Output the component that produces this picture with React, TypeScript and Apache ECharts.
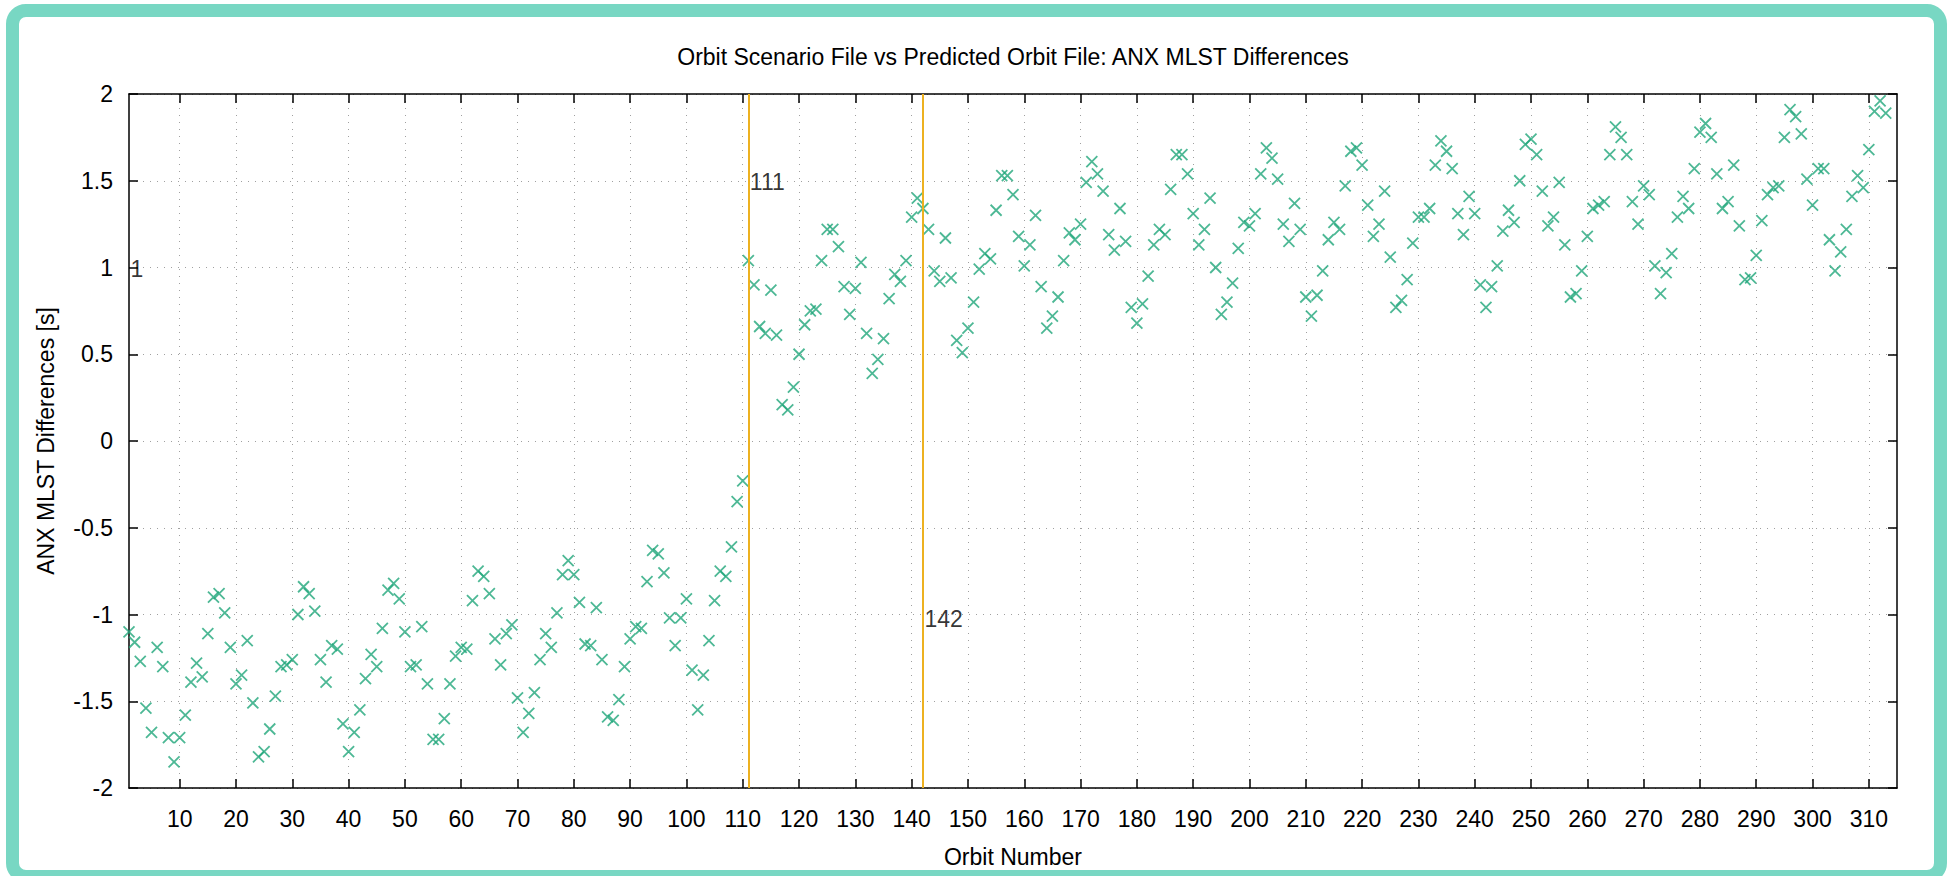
import React, { useEffect, useRef } from 'react';
import * as echarts from 'echarts';

// ---------- data ----------
const FIRST_ORBIT = 1;

// ANX MLST differences [s], orbits 1 .. 110
const mlstDiffBefore = [
  -1.10, -1.16, -1.27, -1.54, -1.68, -1.19, -1.30, -1.71, -1.85, -1.71,
  -1.58, -1.39, -1.28, -1.36, -1.11, -0.90, -0.88, -0.99, -1.19, -1.40,
  -1.35, -1.15, -1.51, -1.82, -1.79, -1.66, -1.47, -1.30, -1.29, -1.26,
  -1.00, -0.84, -0.88, -0.98, -1.26, -1.39, -1.18, -1.20, -1.63, -1.79,
  -1.68, -1.55, -1.37, -1.23, -1.30, -1.08, -0.86, -0.82, -0.91, -1.10,
  -1.30, -1.29, -1.07, -1.40, -1.72, -1.72, -1.60, -1.40, -1.24, -1.19,
  -1.20, -0.92, -0.75, -0.78, -0.88, -1.14, -1.29, -1.11, -1.06, -1.48,
  -1.68, -1.57, -1.45, -1.26, -1.11, -1.19, -0.99, -0.77, -0.69, -0.77,
  -0.93, -1.17, -1.18, -0.96, -1.26, -1.59, -1.61, -1.49, -1.30, -1.14,
  -1.07, -1.08, -0.81, -0.63, -0.65, -0.76, -1.02, -1.18, -1.02, -0.91,
  -1.32, -1.55, -1.35, -1.15, -0.92, -0.75, -0.78, -0.61, -0.35, -0.23,
];

// ANX MLST differences [s], orbits 111 .. 313
const mlstDiffAfter = [
  1.04, 0.90, 0.66, 0.62, 0.87, 0.61, 0.21, 0.18, 0.31, 0.50,
  0.67, 0.75, 0.76, 1.04, 1.22, 1.22, 1.12, 0.89, 0.73, 0.88,
  1.03, 0.62, 0.39, 0.47, 0.59, 0.82, 0.96, 0.92, 1.04, 1.29,
  1.40, 1.34, 1.22, 0.98, 0.92, 1.17, 0.94, 0.58, 0.51, 0.65,
  0.80, 0.99, 1.08, 1.05, 1.33, 1.53, 1.53, 1.42, 1.18, 1.01,
  1.13, 1.30, 0.89, 0.65, 0.72, 0.83, 1.04, 1.20, 1.16, 1.25,
  1.49, 1.61, 1.54, 1.44, 1.19, 1.10, 1.34, 1.15, 0.77, 0.68,
  0.79, 0.95, 1.13, 1.22, 1.19, 1.45, 1.65, 1.65, 1.54, 1.31,
  1.13, 1.22, 1.40, 1.00, 0.73, 0.80, 0.91, 1.11, 1.26, 1.24,
  1.31, 1.54, 1.69, 1.63, 1.51, 1.25, 1.15, 1.37, 1.22, 0.83,
  0.72, 0.84, 0.98, 1.16, 1.26, 1.22, 1.47, 1.67, 1.69, 1.59,
  1.36, 1.18, 1.25, 1.44, 1.06, 0.77, 0.81, 0.93, 1.14, 1.29,
  1.29, 1.34, 1.59, 1.73, 1.67, 1.57, 1.31, 1.19, 1.41, 1.31,
  0.90, 0.77, 0.89, 1.01, 1.21, 1.33, 1.26, 1.50, 1.71, 1.74,
  1.65, 1.44, 1.24, 1.29, 1.49, 1.13, 0.83, 0.85, 0.98, 1.18,
  1.34, 1.36, 1.38, 1.65, 1.81, 1.75, 1.65, 1.38, 1.25, 1.47,
  1.42, 1.01, 0.85, 0.97, 1.08, 1.29, 1.41, 1.34, 1.57, 1.78,
  1.83, 1.75, 1.54, 1.34, 1.38, 1.59, 1.24, 0.93, 0.94, 1.07,
  1.27, 1.42, 1.46, 1.47, 1.75, 1.91, 1.87, 1.77, 1.51, 1.36,
  1.57, 1.57, 1.16, 0.98, 1.09, 1.22, 1.41, 1.53, 1.46, 1.68,
  1.90, 1.96, 1.89,
];

const xTickValues = [
  10, 20, 30, 40, 50, 60, 70, 80, 90, 100, 110, 120, 130, 140, 150, 160,
  170, 180, 190, 200, 210, 220, 230, 240, 250, 260, 270, 280, 290, 300, 310,
];

const markerOrbits = [111, 142];

const annotationOrbits = [1, 111, 142];
const annotationValues = [1, 1.5, -1];
const annotationTexts = ['1', '111', '142'];

const TITLE = 'Orbit Scenario File vs Predicted Orbit File: ANX MLST Differences';
const X_NAME = 'Orbit Number';
const Y_NAME = 'ANX MLST Differences [s]';

// ---------- styles ----------
const FONT = '"Liberation Sans", Arial, Helvetica, sans-serif';
const FS = 23;
const TEXT = '#000000';
const CROSS = '#21a67a';
const ORANGE = '#EDB120';
const FRAME = '#000000';

export default function App() {
  const ref = useRef<HTMLDivElement | null>(null);

  useEffect(() => {
    if (!ref.current) return;
    const chart = echarts.init(ref.current, undefined, { renderer: 'svg' });

    const values = mlstDiffBefore.concat(mlstDiffAfter);
    const points = values.map((v, i) => [FIRST_ORBIT + i, v]);
    const annotations = annotationOrbits.map((o, i) => ({
      value: [o, annotationValues[i], annotationTexts[i]],
      label: { offset: [0, annotationValues[i] < 0 ? 4 : 1] },
    }));

    const axisLine = { show: true, onZero: false, lineStyle: { color: FRAME, width: 1.5 } };
    const tickLine = { color: FRAME, width: 1.5 };
    const gridLine = { show: true, lineStyle: { color: '#a0a0a0', width: 1, type: [1, 6] } };

    chart.setOption({
      animation: false,
      backgroundColor: 'transparent',
      textStyle: { fontFamily: FONT },
      grid: { left: 129, right: 52, top: 94, bottom: 88, containLabel: false },
      graphic: [
        {
          type: 'text',
          x: 1013,
          y: 57,
          style: {
            text: TITLE,
            fill: TEXT,
            fontSize: FS,
            fontFamily: FONT,
            align: 'center',
            verticalAlign: 'middle',
          },
        },
      ],
      xAxis: [
        {
          type: 'value',
          position: 'bottom',
          min: 1,
          max: 315,
          axisLine,
          axisTick: { show: true, inside: true, length: 9, customValues: xTickValues, lineStyle: tickLine },
          axisLabel: { customValues: xTickValues, margin: 19, fontSize: FS, color: TEXT, fontFamily: FONT },
          splitLine: gridLine,
          name: X_NAME,
          nameLocation: 'middle',
          nameGap: 57,
          nameTextStyle: { fontSize: FS, color: TEXT, fontFamily: FONT },
        },
        {
          type: 'value',
          position: 'top',
          min: 1,
          max: 315,
          axisLine,
          axisTick: { show: true, inside: true, length: 9, customValues: xTickValues, lineStyle: tickLine },
          axisLabel: { show: false },
          splitLine: { show: false },
        },
      ],
      yAxis: [
        {
          type: 'value',
          position: 'left',
          min: -2,
          max: 2,
          interval: 0.5,
          axisLine,
          axisTick: { show: true, inside: true, length: 9, lineStyle: tickLine },
          axisLabel: { margin: 16, fontSize: FS, color: TEXT, fontFamily: FONT },
          splitLine: gridLine,
          name: Y_NAME,
          nameLocation: 'middle',
          nameRotate: 90,
          nameGap: 72,
          nameTextStyle: { fontSize: FS, color: TEXT, fontFamily: FONT },
        },
        {
          type: 'value',
          position: 'right',
          min: -2,
          max: 2,
          interval: 0.5,
          axisLine,
          axisTick: { show: true, inside: true, length: 9, lineStyle: tickLine },
          axisLabel: { show: false },
          splitLine: { show: false },
        },
      ],
      series: [
        {
          name: 'ANX MLST Differences',
          type: 'scatter',
          xAxisIndex: 0,
          yAxisIndex: 0,
          data: points,
          symbol: 'path://M0,0L10,10M10,0L0,10',
          symbolSize: 11,
          itemStyle: { color: 'none', borderColor: CROSS, borderWidth: 1.8 },
          markLine: {
            silent: true,
            symbol: 'none',
            label: { show: false },
            lineStyle: { color: ORANGE, width: 2, type: 'solid' },
            data: markerOrbits.map((o) => ({ xAxis: o })),
          },
          z: 3,
        },
        {
          name: 'annotations',
          type: 'scatter',
          xAxisIndex: 0,
          yAxisIndex: 0,
          data: annotations,
          symbol: 'circle',
          symbolSize: 1,
          itemStyle: { color: 'rgba(0,0,0,0)' },
          label: {
            show: true,
            position: 'right',
            distance: 1,
            formatter: (p: any) => p.data.value[2],
            fontSize: FS,
            color: TEXT,
            fontFamily: FONT,
          },
          z: 5,
        },
      ],
    });

    return () => {
      chart.dispose();
    };
  }, []);

  return (
    <div
      style={{
        position: 'fixed',
        left: 0,
        top: 0,
        width: 1949,
        height: 876,
        background: '#ffffff',
        overflow: 'hidden',
      }}
    >
      <div
        style={{
          position: 'absolute',
          left: 6,
          top: 4,
          width: 1941,
          height: 879,
          border: '13px solid #78D7C3',
          borderRadius: 20,
          boxSizing: 'border-box',
        }}
      />
      <div ref={ref} style={{ position: 'absolute', left: 0, top: 0, width: 1949, height: 876 }} />
    </div>
  );
}
